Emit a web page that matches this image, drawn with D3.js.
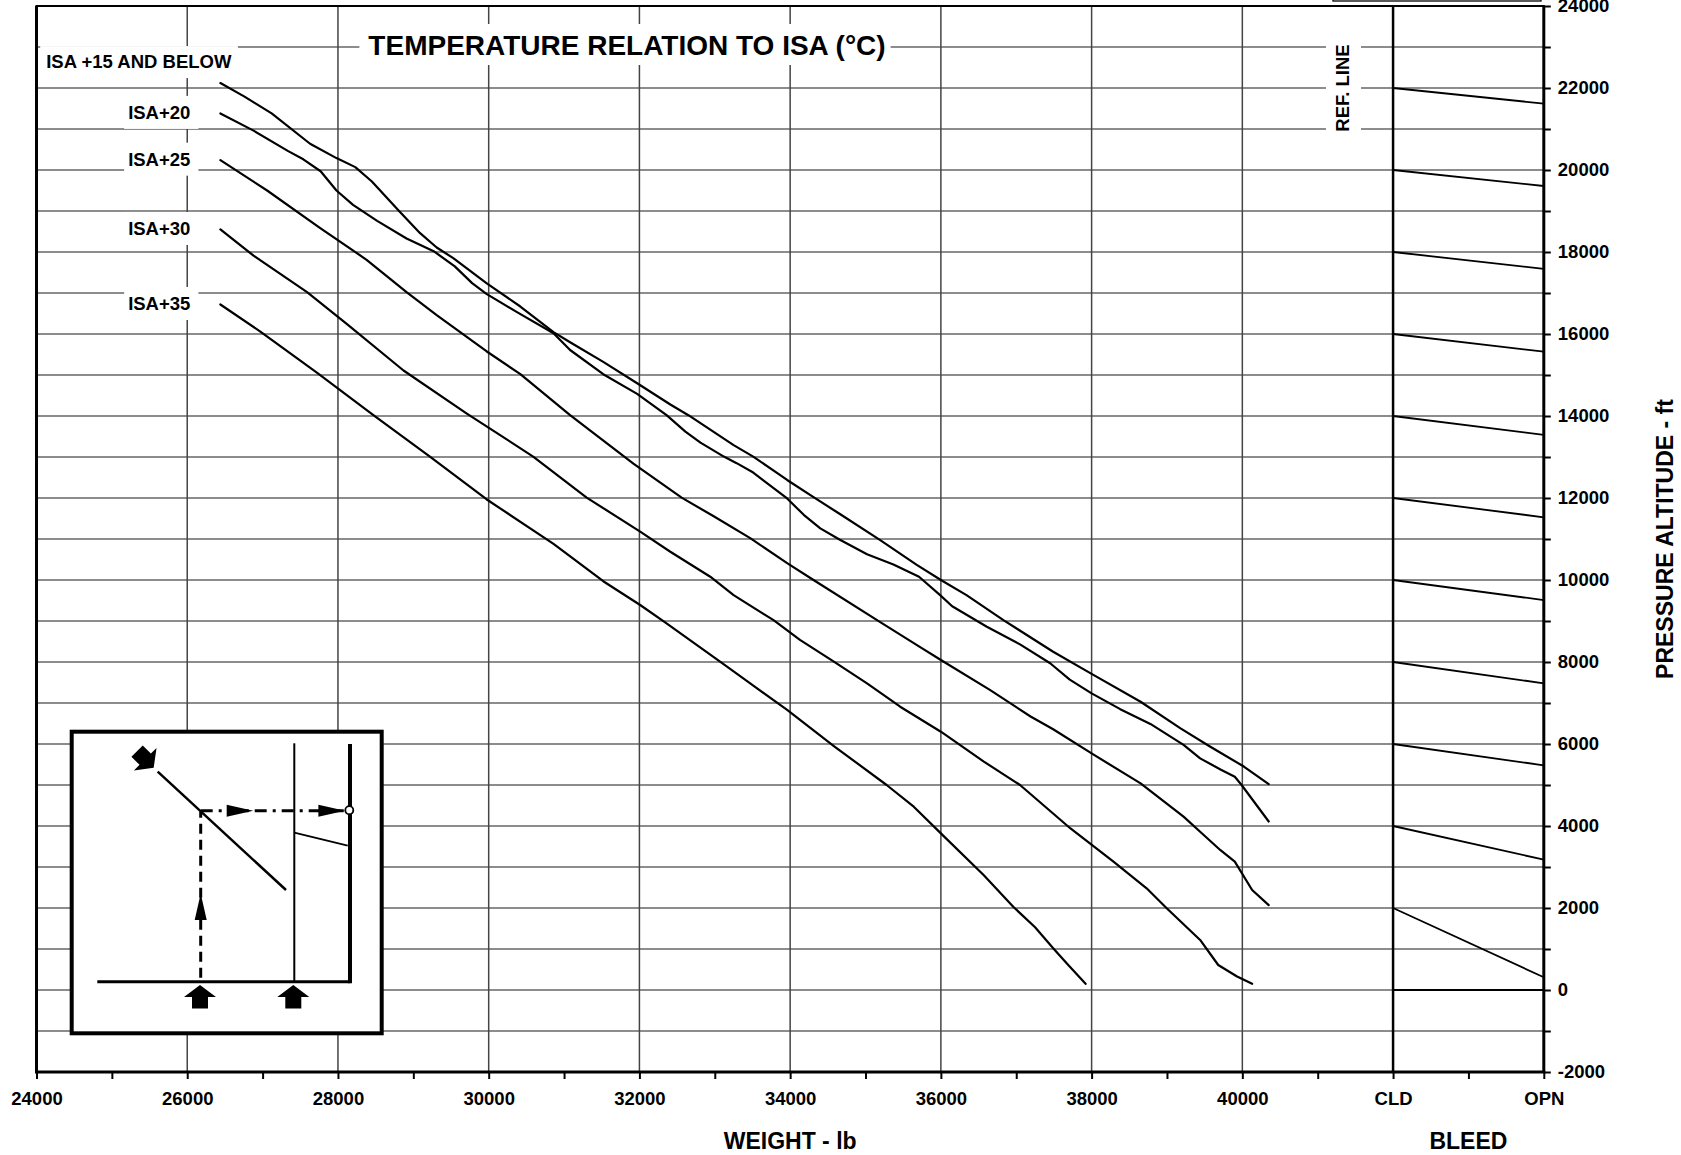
<!DOCTYPE html>
<html><head><meta charset="utf-8">
<script src="https://cdn.jsdelivr.net/npm/d3@7"></script>
<style>
body{margin:0;background:#fff;}
svg{display:block;font-family:"Liberation Sans",Arial,Helvetica,sans-serif;font-weight:bold;}
</style></head><body>
<svg id="chart" width="1681" height="1155"></svg>
<script>
// ---------- data ----------
const weightTicks = [24000, 26000, 28000, 30000, 32000, 34000, 36000, 38000, 40000];
const bleedTicks = ["CLD", "OPN"];
const altTicks = [-2000, 0, 2000, 4000, 6000, 8000, 10000, 12000, 14000, 16000, 18000, 20000, 22000, 24000];
const curveLabels = ["ISA +15 AND BELOW", "ISA+20", "ISA+25", "ISA+30", "ISA+35"];

// [weight lb, pressure altitude ft]
const isa15 = [[26440,22120],[26760,21790],[27120,21380],[27630,20640],[27980,20290],[28230,20070],[28450,19720],[28820,18980],[29090,18460],[29310,18110],[29530,17850],[29970,17240],[30420,16670],[30860,16045],[31080,15800],[31520,15320],[31970,14800],[32410,14280],[32650,14020],[33250,13290],[33510,13010],[33960,12440],[34310,12020],[34660,11610],[35190,10980],[35680,10370],[36000,10000],[36340,9630],[36830,9020],[37490,8250],[38000,7710],[38650,7030],[39180,6380],[39570,5940],[40020,5450],[40350,5020]];
const isa20 = [[26440,21380],[26880,20960],[27340,20460],[27540,20260],[27770,19970],[27980,19500],[28200,19150],[28520,18760],[28910,18330],[29270,18020],[29550,17650],[29780,17240],[29970,16980],[30370,16540],[30860,16020],[31080,15610],[31520,15020],[31970,14540],[32360,14020],[32610,13620],[32810,13350],[33120,13010],[33290,12850],[33510,12620],[33960,11990],[34180,11590],[34400,11260],[34660,10980],[35020,10630],[35370,10380],[35710,10080],[35990,9630],[36150,9360],[36610,8860],[37050,8430],[37450,7970],[37710,7570],[38000,7235],[38380,6850],[38780,6490],[39220,5980],[39440,5650],[39710,5380],[39900,5200],[39990,5000],[40350,4110]];
const isa25 = [[26440,20240],[27060,19500],[27760,18590],[28380,17810],[28910,17020],[29310,16460],[29970,15580],[30420,15020],[31080,14020],[31920,12840],[32560,12010],[32980,11560],[33470,11020],[33960,10410],[34310,10000],[35190,8980],[35720,8370],[36000,8050],[36650,7320],[37190,6670],[37490,6360],[38000,5770],[38650,5040],[39220,4230],[39440,3860],[39710,3410],[39900,3130],[40130,2440],[40350,2070]];
const isa30 = [[26440,18550],[26880,17910],[27590,17020],[28120,16240],[28870,15110],[29710,14060],[30590,13010],[31300,12010],[32010,11180],[32410,10690],[32940,10080],[33250,9630],[33780,9020],[34130,8540],[34580,8010],[35020,7480],[35460,6910],[36000,6300],[36570,5570],[37050,5000],[37720,3940],[38290,3130],[38730,2480],[39000,1990],[39440,1220],[39680,610],[39930,330],[40130,150]];
const isa35 = [[26440,16720],[26970,16060],[27720,15060],[28470,14020],[29220,13010],[29970,11970],[30860,10880],[31520,9970],[32010,9390],[32360,8940],[33070,8010],[33470,7480],[33960,6830],[34580,5950],[35280,5000],[35640,4470],[36000,3820],[36570,2800],[36960,2030],[37250,1530],[37490,1020],[37690,610],[37920,150]];

// bleed reference lines: altitude at CLD -> altitude at OPN
const bleedCld = [2000, 4000, 6000, 8000, 10000, 12000, 14000, 16000, 18000, 20000, 22000];
const bleedOpn = [310, 3180, 5480, 7480, 9510, 11530, 13540, 15570, 17590, 19610, 21620];

// ---------- chart ----------
const svg = d3.select("#chart");
const x = d3.scaleLinear().domain([24000, 44000]).range([36.5, 1543.8]);
const xb = d3.scalePoint().domain(bleedTicks).range([x(42000), x(44000)]);
const y = d3.scaleLinear().domain([-2000, 24000]).range([1072, 6]);

const gGrid = svg.append("g");
gGrid.selectAll("line.h").data(d3.range(-1000, 23001, 1000)).join("line")
  .attr("x1", x(24000)).attr("x2", x(44000))
  .attr("y1", d => y(d)).attr("y2", d => y(d))
  .attr("stroke", "#1a1a1a").attr("stroke-width", 1.2);
gGrid.selectAll("line.v").data(weightTicks.slice(1)).join("line")
  .attr("x1", d => x(d)).attr("x2", d => x(d))
  .attr("y1", y(24000)).attr("y2", y(-2000))
  .attr("stroke", "#444").attr("stroke-width", 1.5);

const gBoxes = svg.append("g");
const gText = svg.append("g");
function boxedText(sel, padL, padR, padT, padB) {
  const b = sel.node().getBBox();
  gBoxes.append("rect").attr("x", b.x - padL).attr("y", b.y - padT)
    .attr("width", b.width + padL + padR).attr("height", b.height + padT + padB)
    .attr("fill", "#fff");
}

const title = gText.append("text").attr("x", 627).attr("y", 55).attr("text-anchor", "middle")
  .attr("font-size", 28).text("TEMPERATURE RELATION TO ISA (°C)");
boxedText(title, 9, 5, 6, 4);

const curves = [isa15, isa20, isa25, isa30, isa35];
const line = d3.line().x(d => x(d[0])).y(d => y(d[1]));
svg.append("g").selectAll("path").data(curves).join("path")
  .attr("d", line).attr("fill", "none").attr("stroke", "#000")
  .attr("stroke-width", 2.2).attr("stroke-linejoin", "round").attr("stroke-linecap", "round");

curves.forEach((c, i) => {
  const x0 = x(c[0][0]), y0 = y(c[0][1]);
  let t;
  if (i === 0) {
    t = gText.append("text").attr("x", x0 + 11).attr("y", y0 - 15).attr("text-anchor", "end")
      .attr("font-size", 18.5).text(curveLabels[i]);
    boxedText(t, 6, 6, 5, 6);
  } else {
    t = gText.append("text").attr("x", x0 - 30).attr("y", y0 + 5.5).attr("text-anchor", "end")
      .attr("font-size", 18.5).text(curveLabels[i]);
    boxedText(t, 4, 8, 6, 6);
  }
});

const ref = gText.append("text").attr("transform", `translate(1349,${y(22000)}) rotate(-90)`)
  .attr("text-anchor", "middle").attr("font-size", 18.5).text("REF. LINE");
{
  const b = ref.node().getBBox();
  gBoxes.append("rect").attr("x", 1326).attr("y", y(22000) - b.width / 2 - 8)
    .attr("width", 35).attr("height", b.width + 16).attr("fill", "#fff");
}

const bl = d3.line().x(d => xb(d[0])).y(d => y(d[1]));
svg.append("g").selectAll("path").data(bleedCld.map((c, i) => [["CLD", c], ["OPN", bleedOpn[i]]]))
  .join("path").attr("d", bl).attr("stroke", "#000").attr("stroke-width", 1.8).attr("fill", "none");
svg.append("line").attr("x1", xb("CLD")).attr("x2", xb("OPN")).attr("y1", y(0)).attr("y2", y(0))
  .attr("stroke", "#000").attr("stroke-width", 1.8);

const gF = svg.append("g").attr("stroke", "#000").attr("fill", "none");
gF.append("line").attr("x1", x(24000) - 1).attr("x2", x(44000) + 1).attr("y1", y(24000)).attr("y2", y(24000)).attr("stroke-width", 2);
gF.append("line").attr("x1", x(24000)).attr("x2", x(24000)).attr("y1", y(24000)).attr("y2", y(-2000)).attr("stroke-width", 3);
gF.append("line").attr("x1", x(24000) - 1.5).attr("x2", x(44000) + 1.5).attr("y1", y(-2000)).attr("y2", y(-2000)).attr("stroke-width", 3);
gF.append("line").attr("x1", xb("CLD")).attr("x2", xb("CLD")).attr("y1", y(24000)).attr("y2", y(-2000)).attr("stroke-width", 2.5);
gF.append("line").attr("x1", xb("OPN")).attr("x2", xb("OPN")).attr("y1", y(24000)).attr("y2", y(-2000)).attr("stroke-width", 3);
gF.append("rect").attr("x", 1333).attr("y", -10).attr("width", 208).attr("height", 11).attr("stroke-width", 1.3);

const bottomFmt = d => weightTicks.includes(d) ? String(d)
  : (d >= 42000 && (d - 42000) % 2000 === 0 ? bleedTicks[(d - 42000) / 2000] : "");
const ax = svg.append("g").attr("transform", `translate(0,${y(-2000)})`)
  .call(d3.axisBottom(x).tickValues(d3.range(24000, 44001, 1000)).tickSize(7).tickPadding(13).tickFormat(bottomFmt));
ax.select(".domain").remove();
ax.selectAll("line").attr("stroke", "#000").attr("stroke-width", 2);
ax.selectAll("text").attr("font-size", 18.5).attr("font-family", null).attr("fill", "#000").attr("font-weight", "bold");

const ay = svg.append("g").attr("transform", `translate(${x(44000)},0)`)
  .call(d3.axisRight(y).tickValues(d3.range(-2000, 24001, 1000)).tickSize(7).tickPadding(7)
    .tickFormat(d => altTicks.includes(d) ? String(d) : ""));
ay.select(".domain").remove();
ay.selectAll("line").attr("stroke", "#000").attr("stroke-width", 2);
ay.selectAll("text").attr("font-size", 18.5).attr("font-family", null).attr("fill", "#000").attr("font-weight", "bold");

svg.append("text").attr("x", (x(24000) + x(44000)) / 2).attr("y", 1149).attr("text-anchor", "middle")
  .attr("font-size", 23).text("WEIGHT - lb");
svg.append("text").attr("x", (xb("CLD") + xb("OPN")) / 2).attr("y", 1149).attr("text-anchor", "middle")
  .attr("font-size", 23).text("BLEED");
svg.append("text").attr("transform", `translate(1673,${(y(24000) + y(-2000)) / 2}) rotate(-90)`)
  .attr("text-anchor", "middle").attr("font-size", 23).text("PRESSURE ALTITUDE - ft");

// ---------- inset (how-to-read diagram) ----------
const g = svg.append("g").attr("transform", "translate(71.7,731.7)");
g.append("rect").attr("x", 0).attr("y", 0).attr("width", 310).attr("height", 301.6)
  .attr("fill", "#fff").attr("stroke", "#000").attr("stroke-width", 4);
g.append("line").attr("x1", 25.6).attr("x2", 278.3).attr("y1", 250).attr("y2", 250).attr("stroke", "#000").attr("stroke-width", 3);
g.append("line").attr("x1", 278.3).attr("x2", 278.3).attr("y1", 12.3).attr("y2", 251.5).attr("stroke", "#000").attr("stroke-width", 4);
g.append("line").attr("x1", 222.6).attr("x2", 222.6).attr("y1", 11.6).attr("y2", 250).attr("stroke", "#000").attr("stroke-width", 2);
g.append("line").attr("x1", 222.6).attr("x2", 276).attr("y1", 101).attr("y2", 114).attr("stroke", "#000").attr("stroke-width", 1.8);
g.append("line").attr("x1", 86).attr("x2", 214.3).attr("y1", 40).attr("y2", 158.3).attr("stroke", "#000").attr("stroke-width", 2.5);
g.append("line").attr("x1", 129).attr("x2", 129).attr("y1", 246).attr("y2", 80).attr("stroke", "#000").attr("stroke-width", 3).attr("stroke-dasharray", "10,6");
g.append("line").attr("x1", 129).attr("x2", 272).attr("y1", 79).attr("y2", 79).attr("stroke", "#000").attr("stroke-width", 3).attr("stroke-dasharray", "12,6,3,6");
const tri = (pts) => g.append("path").attr("d", "M" + pts.map(p => p.join(",")).join("L") + "Z").attr("fill", "#000");
tri([[155, 73], [181.6, 79], [155, 85]]);
tri([[246.7, 73], [273.3, 79], [246.7, 85]]);
tri([[123, 188.3], [129, 161.7], [135, 188.3]]);
g.append("circle").attr("cx", 277.6).attr("cy", 78.5).attr("r", 4).attr("fill", "#fff").attr("stroke", "#000").attr("stroke-width", 1.8);
const blockUp = "M0,0 L16,12 L8,12 L8,23.5 L-8,23.5 L-8,12 L-16,12 Z";
g.append("path").attr("d", blockUp).attr("transform", "translate(128.3,253.3)").attr("fill", "#000");
g.append("path").attr("d", blockUp).attr("transform", "translate(221.6,253.3)").attr("fill", "#000");
g.append("path").attr("d", blockUp).attr("transform", "translate(82,36) rotate(135)").attr("fill", "#000");
</script>
</body></html>
